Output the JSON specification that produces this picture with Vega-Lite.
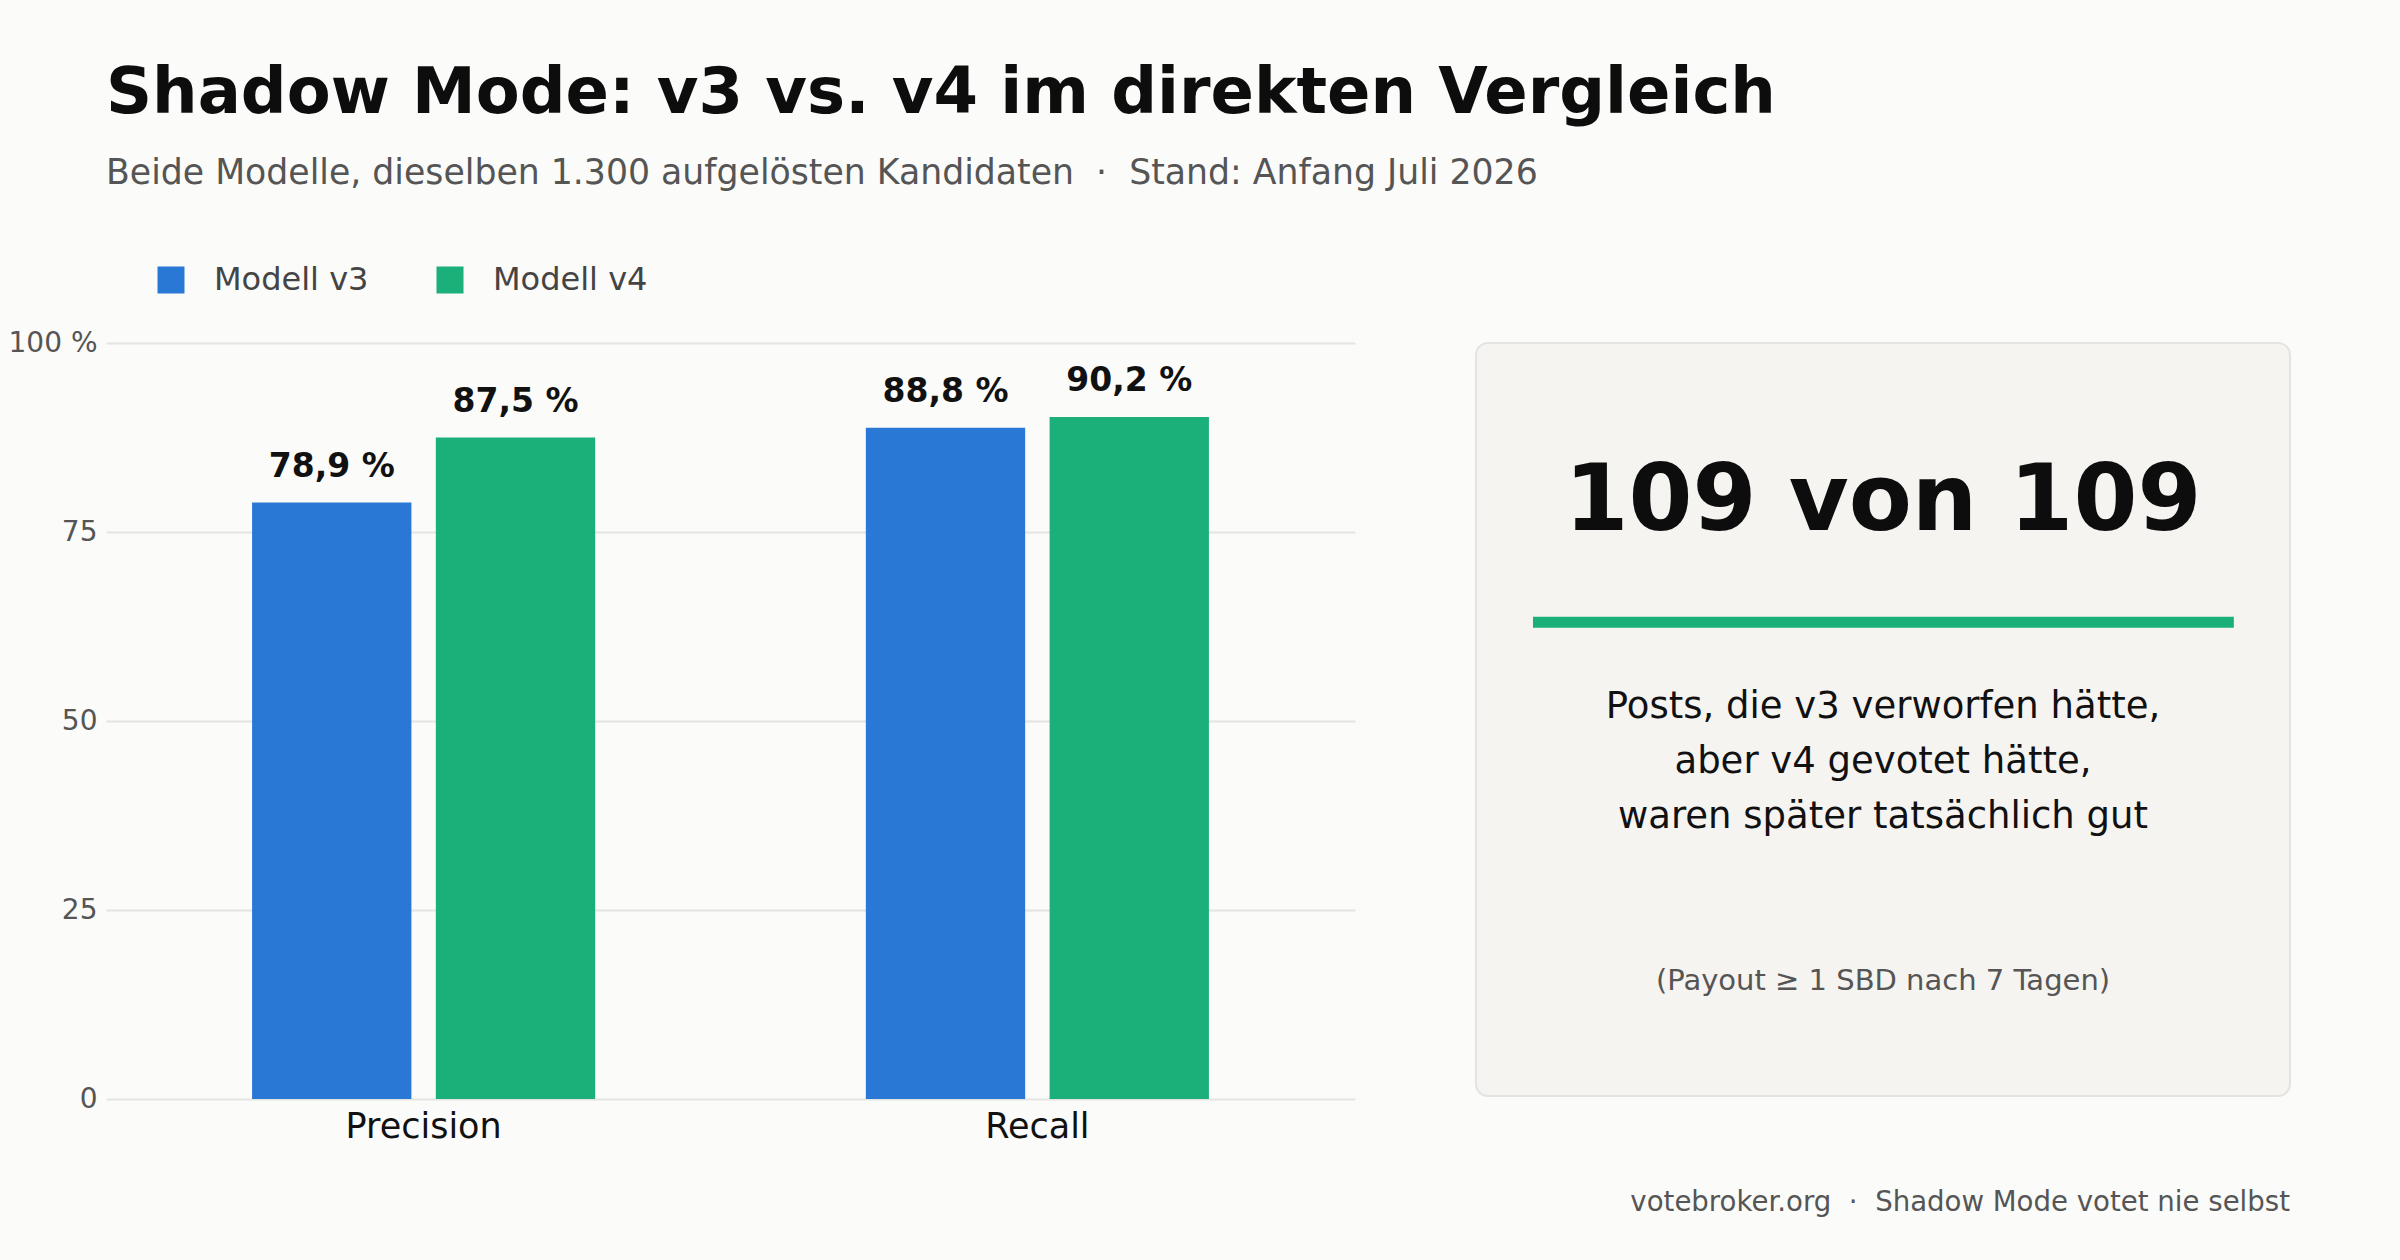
{
  "$schema": "https://vega.github.io/schema/vega-lite/v6.json",
  "background": "#fbfbf9",
  "padding": {"left": 8, "top": 62, "right": 109, "bottom": 50},
  "config": {
    "font": "DejaVu Sans",
    "view": {"stroke": null}
  },
  "title": {
    "text": "Shadow Mode: v3 vs. v4 im direkten Vergleich",
    "subtitle": "Beide Modelle, dieselben 1.300 aufgelösten Kandidaten \u00a0·\u00a0 Stand: Anfang Juli 2026",
    "anchor": "start",
    "frame": "group",
    "fontSize": 64,
    "fontWeight": "bold",
    "color": "#0d0d0d",
    "subtitleFontSize": 34.7,
    "subtitleColor": "#555555",
    "subtitlePadding": 31,
    "offset": 73
  },
  "bounds": "flush",
  "spacing": 121,
  "hconcat": [
    {
      "width": 1249,
      "height": 756,
      "data": {
        "values": [
          {"metric": "Precision", "model": "Modell v3", "value": 78.9, "label": "78,9 %"},
          {"metric": "Precision", "model": "Modell v4", "value": 87.5, "label": "87,5 %"},
          {"metric": "Recall", "model": "Modell v3", "value": 88.8, "label": "88,8 %"},
          {"metric": "Recall", "model": "Modell v4", "value": 90.2, "label": "90,2 %"}
        ]
      },
      "encoding": {
        "x": {
          "field": "metric",
          "type": "nominal",
          "sort": ["Precision", "Recall"],
          "scale": {"paddingInner": 0.441, "paddingOuter": 0.238},
          "axis": {"title": null, "labelAngle": 0, "ticks": false, "domain": false, "grid": false, "labelFontSize": 35, "labelColor": "#111111", "labelPadding": 10}
        },
        "xOffset": {
          "field": "model",
          "type": "nominal",
          "scale": {"paddingInner": 0.133, "paddingOuter": 0}
        },
        "y": {
          "field": "value",
          "type": "quantitative",
          "scale": {"domain": [0, 100]},
          "axis": {
            "title": null,
            "values": [0, 25, 50, 75, 100],
            "labelExpr": "datum.value == 100 ? '100 %' : datum.label",
            "domain": false,
            "ticks": false,
            "labelFontSize": 28,
            "labelColor": "#555555",
            "labelPadding": 9,
            "gridColor": "#e4e4e2",
            "gridWidth": 2
          }
        }
      },
      "layer": [
        {
          "mark": {"type": "bar"},
          "encoding": {
            "color": {
              "field": "model",
              "type": "nominal",
              "scale": {"domain": ["Modell v3", "Modell v4"], "range": ["#2a78d6", "#1bb07a"]},
              "legend": {
                "title": null,
                "orient": "none",
                "legendX": 49,
                "legendY": -79,
                "direction": "horizontal",
                "symbolType": "square",
                "symbolSize": 729,
                "symbolStrokeWidth": 0,
                "labelFontSize": 32,
                "labelColor": "#444444",
                "labelOffset": 27,
                "columnPadding": 65
              }
            }
          }
        },
        {
          "mark": {"type": "text", "fontSize": 33, "fontWeight": "bold", "baseline": "alphabetic", "dy": -26, "color": "#111111"},
          "encoding": {"text": {"field": "label"}}
        }
      ]
    },
    {
      "width": 814,
      "height": 753,
      "layer": [
        {
          "data": {"values": [{"part": "card"}]},
          "mark": {"type": "rect", "fill": "#f5f4f1", "stroke": "#e3e3e1", "strokeWidth": 2, "cornerRadius": 12},
          "encoding": {
            "x": {"datum": 0, "type": "quantitative", "scale": {"domain": [0, 1]}, "axis": null},
            "x2": {"datum": 1},
            "y": {"datum": 0, "type": "quantitative", "scale": {"domain": [0, 1], "reverse": true}, "axis": null},
            "y2": {"datum": 1}
          }
        },
        {
          "data": {"values": [{"text": "109 von 109"}]},
          "mark": {"type": "text", "fontSize": 92, "fontWeight": "bold", "color": "#0d0d0d", "baseline": "alphabetic", "align": "center"},
          "encoding": {
            "x": {"datum": 0.5, "type": "quantitative"},
            "y": {"datum": 0.248, "type": "quantitative"},
            "text": {"field": "text"}
          }
        },
        {
          "data": {"values": [{"part": "divider"}]},
          "mark": {"type": "rule", "color": "#1bb07a", "strokeWidth": 11},
          "encoding": {
            "x": {"datum": 0.07, "type": "quantitative"},
            "x2": {"datum": 0.931},
            "y": {"datum": 0.371, "type": "quantitative"}
          }
        },
        {
          "data": {"values": [{"text": "Posts, die v3 verworfen hätte,\naber v4 gevotet hätte,\nwaren später tatsächlich gut"}]},
          "mark": {"type": "text", "fontSize": 37, "color": "#111111", "baseline": "middle", "align": "center", "lineBreak": "\n", "lineHeight": 55},
          "encoding": {
            "x": {"datum": 0.5, "type": "quantitative"},
            "y": {"datum": 0.484, "type": "quantitative"},
            "text": {"field": "text"}
          }
        },
        {
          "data": {"values": [{"text": "(Payout ≥ 1 SBD nach 7 Tagen)"}]},
          "mark": {"type": "text", "fontSize": 29, "color": "#555555", "baseline": "middle", "align": "center"},
          "encoding": {
            "x": {"datum": 0.5, "type": "quantitative"},
            "y": {"datum": 0.847, "type": "quantitative"},
            "text": {"field": "text"}
          }
        },
        {
          "data": {"values": [{"text": "votebroker.org \u00a0·\u00a0 Shadow Mode votet nie selbst"}]},
          "mark": {"type": "text", "fontSize": 27.6, "color": "#555555", "baseline": "middle", "align": "right", "clip": false},
          "encoding": {
            "x": {"datum": 1, "type": "quantitative"},
            "y": {"datum": 1.142, "type": "quantitative"},
            "text": {"field": "text"}
          }
        }
      ]
    }
  ]
}
